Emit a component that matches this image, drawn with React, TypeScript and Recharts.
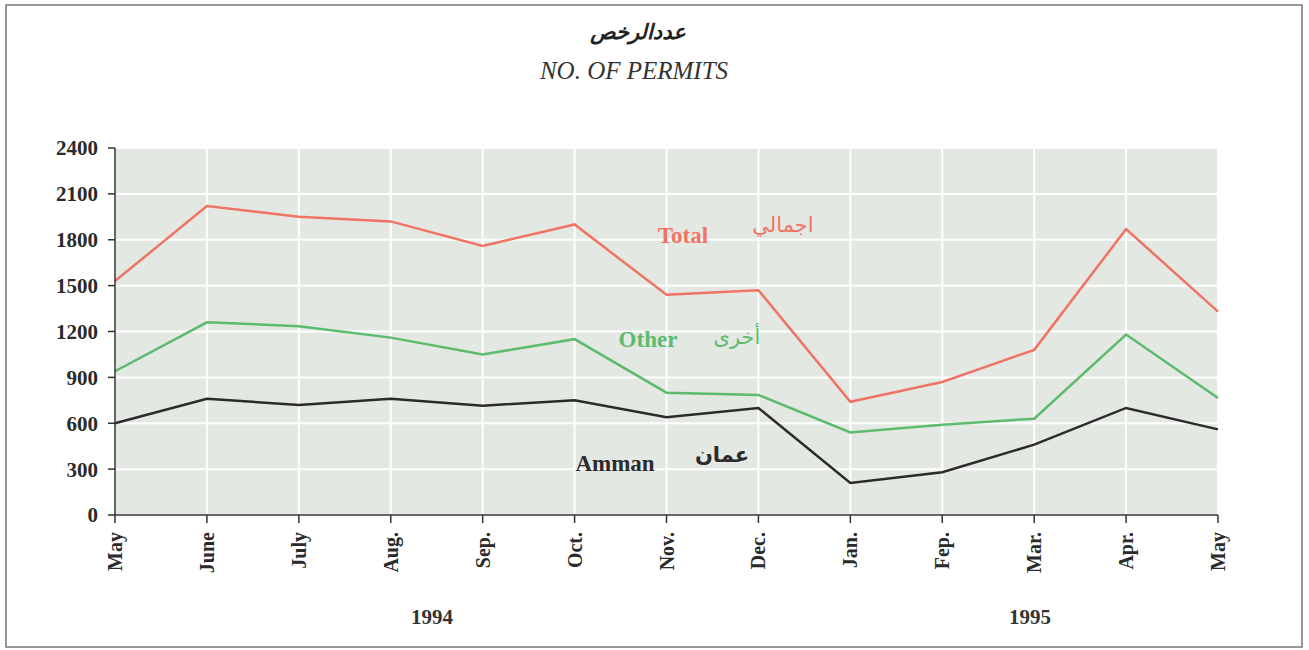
import {
  LineChart,
  Line,
  XAxis,
  YAxis,
  CartesianGrid,
  Customized,
} from "recharts";

const months = [
  "May", "June", "July", "Aug.", "Sep.", "Oct.", "Nov.",
  "Dec.", "Jan.", "Fep.", "Mar.", "Apr.", "May",
];
const totalPermits = [1530, 2020, 1950, 1920, 1760, 1900, 1440, 1470, 740, 870, 1080, 1870, 1330];
const otherPermits = [940, 1260, 1235, 1160, 1050, 1150, 800, 785, 540, 590, 630, 1180, 765];
const ammanPermits = [600, 760, 720, 760, 715, 750, 640, 700, 210, 280, 460, 700, 560];
const yTicks = [0, 300, 600, 900, 1200, 1500, 1800, 2100, 2400];

const data = months.map((m, i) => ({
  idx: i,
  month: m,
  total: totalPermits[i],
  other: otherPermits[i],
  amman: ammanPermits[i],
}));

const SERIF = "'Liberation Serif', 'DejaVu Serif', serif";
const ARABIC = "'DejaVu Sans', 'Noto Sans', sans-serif";

// rotated month labels under the x axis
const MonthTick = (props: any) => {
  const { x, y, payload } = props;
  return (
    <text
      x={x}
      y={y}
      transform={`rotate(-90, ${x + 7}, ${y})`}
      textAnchor="end"
      fontFamily={SERIF}
      fontWeight="bold"
      fontSize={20}
      fill="#2a2a2a"
    >
      {months[payload.value]}
    </text>
  );
};

// frame around the plot area (top and right edges)
const PlotFrame = (props: any) => {
  const { offset } = props;
  if (!offset) return null;
  const { left, top, width } = offset;
  return (
    <g>
      <line x1={left} y1={top} x2={left + width} y2={top} stroke="#555" strokeWidth={1.5} />
      <line x1={left + width} y1={top} x2={left + width} y2={top + offset.height} stroke="#666" strokeWidth={1.5} />
    </g>
  );
};

export default function App() {
  return (
    <div style={{ position: "absolute", left: 0, top: 0, width: 1309, height: 650, background: "#fff" }}>
      <svg width={1309} height={650} style={{ position: "absolute", left: 0, top: 0 }}>
        <rect x={6} y={5} width={1296} height={642} fill="none" stroke="#777" strokeWidth={1.5} />
        <text x={638} y={39} textAnchor="middle" fontFamily={ARABIC} fontWeight="bold" fontStyle="italic" fontSize={21} fill="#222">
          عددالرخص
        </text>
        <text x={634} y={79} textAnchor="middle" fontFamily={SERIF} fontStyle="italic" fontSize={25} fill="#333">
          NO. OF PERMITS
        </text>
        <text x={432} y={624} textAnchor="middle" fontFamily={SERIF} fontWeight="bold" fontSize={21} fill="#333">1994</text>
        <text x={1030} y={624} textAnchor="middle" fontFamily={SERIF} fontWeight="bold" fontSize={21} fill="#333">1995</text>
      </svg>
      <div style={{ position: "absolute", left: 0, top: 0 }}>
        <LineChart
          width={1309}
          height={650}
          data={data}
          margin={{ top: 148, right: 91, bottom: 55, left: 55 }}
        >
          <CartesianGrid fill="#e4e8e2" stroke="#ffffff" strokeWidth={2} />
          <XAxis
            dataKey="idx"
            type="number"
            domain={[0, 12]}
            ticks={data.map((d) => d.idx)}
            interval={0}
            height={80}
            stroke="#333"
            strokeWidth={1.5}
            tickSize={8}
            tickLine={{ stroke: "#333" }}
            tick={<MonthTick />}
          />
          <YAxis
            domain={[0, 2400]}
            ticks={yTicks}
            width={60}
            stroke="#333"
            strokeWidth={1.5}
            tickSize={7}
            tickMargin={10}
            tick={{ fontFamily: SERIF, fontWeight: "bold", fontSize: 21, fill: "#2a2a2a" }}
          />
          <Line dataKey="total" stroke="#f07464" strokeWidth={2.5} dot={false} isAnimationActive={false} />
          <Line dataKey="other" stroke="#5cbb6c" strokeWidth={2.5} dot={false} isAnimationActive={false} />
          <Line dataKey="amman" stroke="#2b2b2b" strokeWidth={2.5} dot={false} isAnimationActive={false} />
          <Customized component={PlotFrame} />
        </LineChart>
      </div>
      <svg width={1309} height={650} style={{ position: "absolute", left: 0, top: 0, pointerEvents: "none" }}>
        <text x={683} y={243} textAnchor="middle" fontFamily={SERIF} fontWeight="bold" fontSize={23} fill="#f07464">Total</text>
        <text x={783} y={232} textAnchor="middle" fontFamily={ARABIC} fontSize={21} fill="#f07464">اجمالي</text>
        <text x={648} y={347} textAnchor="middle" fontFamily={SERIF} fontWeight="bold" fontSize={23} fill="#5cbb6c">Other</text>
        <text x={737} y={344} textAnchor="middle" fontFamily={ARABIC} fontSize={21} fill="#5cbb6c">أخرى</text>
        <text x={615} y={471} textAnchor="middle" fontFamily={SERIF} fontWeight="bold" fontSize={23} fill="#2b2b2b">Amman</text>
        <text x={722} y={462} textAnchor="middle" fontFamily={ARABIC} fontWeight="bold" fontSize={21} fill="#2b2b2b">عمان</text>
      </svg>
    </div>
  );
}
